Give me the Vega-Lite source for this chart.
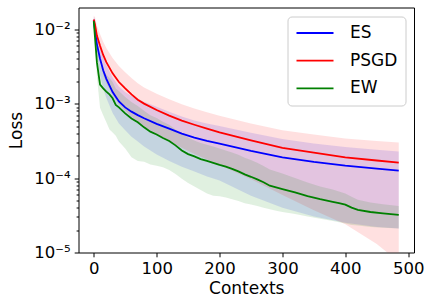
{
 "$schema": "https://vega.github.io/schema/vega-lite/v6.json",
 "width": 335.5,
 "height": 245,
 "autosize": "none",
 "padding": {"left": 78.5, "top": 7.5, "right": 18, "bottom": 53.5},
 "background": "white",
 "config": {
  "font": "DejaVu Sans",
  "view": {"stroke": "black", "strokeWidth": 1},
  "axis": {"grid": false, "domain": false, "tickColor": "black", "labelColor": "black", "titleColor": "black", "labelFont": "DejaVu Sans", "titleFont": "DejaVu Sans", "labelFontSize": 16.5, "titleFontSize": 17, "titleFontWeight": "normal", "tickWidth": 1},
  "legend": {"symbolType": "stroke", "symbolStrokeWidth": 1.8}
 },
 "datasets": {
  "runs": [
   {"m":"ES","x":0,"y":0.0133,"lo":0.0118,"hi":0.0148},
   {"m":"ES","x":2,"y":0.0097,"lo":0.0078,"hi":0.0135},
   {"m":"ES","x":5,"y":0.0063,"lo":0.0044,"hi":0.0091},
   {"m":"ES","x":10,"y":0.0040,"lo":0.0024,"hi":0.0059},
   {"m":"ES","x":15,"y":0.0028,"lo":0.0016,"hi":0.0042},
   {"m":"ES","x":20,"y":0.00215,"lo":0.00119,"hi":0.0033},
   {"m":"ES","x":30,"y":0.00143,"lo":0.00075,"hi":0.00225},
   {"m":"ES","x":40,"y":0.00107,"lo":0.00054,"hi":0.0017},
   {"m":"ES","x":50,"y":0.00089,"lo":0.00044,"hi":0.00143},
   {"m":"ES","x":60,"y":0.00078,"lo":0.00036,"hi":0.00127},
   {"m":"ES","x":70,"y":0.00070,"lo":0.00031,"hi":0.00115},
   {"m":"ES","x":80,"y":0.000635,"lo":0.000266,"hi":0.00106},
   {"m":"ES","x":100,"y":0.000535,"lo":0.000207,"hi":0.00091},
   {"m":"ES","x":120,"y":0.00046,"lo":0.00017,"hi":0.00078},
   {"m":"ES","x":140,"y":0.000395,"lo":0.000142,"hi":0.00067},
   {"m":"ES","x":160,"y":0.00035,"lo":0.000122,"hi":0.000595},
   {"m":"ES","x":180,"y":0.000315,"lo":0.000105,"hi":0.00054},
   {"m":"ES","x":200,"y":0.00029,"lo":0.000093,"hi":0.0005},
   {"m":"ES","x":250,"y":0.000232,"lo":0.000058,"hi":0.000406},
   {"m":"ES","x":300,"y":0.00019,"lo":0.00004,"hi":0.000334},
   {"m":"ES","x":350,"y":0.000165,"lo":0.0000305,"hi":0.000292},
   {"m":"ES","x":400,"y":0.000147,"lo":0.000025,"hi":0.000262},
   {"m":"ES","x":450,"y":0.000134,"lo":0.000022,"hi":0.00024},
   {"m":"ES","x":485,"y":0.000126,"lo":0.000021,"hi":0.000227},
   {"m":"PSGD","x":0,"y":0.0135,"lo":0.012,"hi":0.0152},
   {"m":"PSGD","x":2,"y":0.0115,"lo":0.0092,"hi":0.0145},
   {"m":"PSGD","x":5,"y":0.0082,"lo":0.0053,"hi":0.0111},
   {"m":"PSGD","x":10,"y":0.0060,"lo":0.0035,"hi":0.0086},
   {"m":"PSGD","x":15,"y":0.0045,"lo":0.0024,"hi":0.00675},
   {"m":"PSGD","x":20,"y":0.0036,"lo":0.00187,"hi":0.0056},
   {"m":"PSGD","x":30,"y":0.00255,"lo":0.0013,"hi":0.0041},
   {"m":"PSGD","x":40,"y":0.00195,"lo":0.00098,"hi":0.0032},
   {"m":"PSGD","x":50,"y":0.0016,"lo":0.0008,"hi":0.00264},
   {"m":"PSGD","x":60,"y":0.00133,"lo":0.00066,"hi":0.0022},
   {"m":"PSGD","x":70,"y":0.00113,"lo":0.00056,"hi":0.00187},
   {"m":"PSGD","x":80,"y":0.001,"lo":0.00049,"hi":0.00165},
   {"m":"PSGD","x":100,"y":0.00082,"lo":0.00039,"hi":0.00136},
   {"m":"PSGD","x":120,"y":0.00069,"lo":0.00031,"hi":0.00114},
   {"m":"PSGD","x":140,"y":0.00059,"lo":0.000255,"hi":0.00098},
   {"m":"PSGD","x":160,"y":0.00052,"lo":0.00021,"hi":0.00086},
   {"m":"PSGD","x":180,"y":0.00046,"lo":0.000178,"hi":0.000765},
   {"m":"PSGD","x":200,"y":0.00041,"lo":0.00015,"hi":0.000685},
   {"m":"PSGD","x":250,"y":0.00032,"lo":0.000096,"hi":0.00054},
   {"m":"PSGD","x":300,"y":0.000255,"lo":0.000059,"hi":0.00044},
   {"m":"PSGD","x":350,"y":0.00022,"lo":0.000037,"hi":0.000385},
   {"m":"PSGD","x":400,"y":0.00019,"lo":0.000024,"hi":0.00034},
   {"m":"PSGD","x":450,"y":0.000172,"lo":0.000013,"hi":0.000315},
   {"m":"PSGD","x":485,"y":0.000161,"lo":0.0000075,"hi":0.0003},
   {"m":"EW","x":0,"y":0.0128,"lo":0.0118,"hi":0.0145},
   {"m":"EW","x":5,"y":0.0036,"lo":0.0023,"hi":0.0065},
   {"m":"EW","x":10,"y":0.0018,"lo":0.00088,"hi":0.0033},
   {"m":"EW","x":15,"y":0.0016,"lo":0.0007,"hi":0.0028},
   {"m":"EW","x":20,"y":0.00145,"lo":0.00056,"hi":0.00245},
   {"m":"EW","x":25,"y":0.00133,"lo":0.00045,"hi":0.0022},
   {"m":"EW","x":30,"y":0.00118,"lo":0.00041,"hi":0.00195},
   {"m":"EW","x":35,"y":0.00096,"lo":0.00037,"hi":0.0016},
   {"m":"EW","x":40,"y":0.00089,"lo":0.00031,"hi":0.00148},
   {"m":"EW","x":50,"y":0.00074,"lo":0.00025,"hi":0.00123},
   {"m":"EW","x":60,"y":0.00063,"lo":0.00019,"hi":0.00105},
   {"m":"EW","x":70,"y":0.00056,"lo":0.00017,"hi":0.00093},
   {"m":"EW","x":80,"y":0.00048,"lo":0.000166,"hi":0.0008},
   {"m":"EW","x":90,"y":0.00042,"lo":0.000152,"hi":0.0007},
   {"m":"EW","x":100,"y":0.000385,"lo":0.000146,"hi":0.00064},
   {"m":"EW","x":110,"y":0.000345,"lo":0.00014,"hi":0.00057},
   {"m":"EW","x":120,"y":0.000315,"lo":0.000128,"hi":0.00052},
   {"m":"EW","x":130,"y":0.000275,"lo":0.000113,"hi":0.00045},
   {"m":"EW","x":140,"y":0.000235,"lo":0.000098,"hi":0.00039},
   {"m":"EW","x":150,"y":0.00021,"lo":0.000086,"hi":0.00035},
   {"m":"EW","x":160,"y":0.000195,"lo":0.000077,"hi":0.00032},
   {"m":"EW","x":170,"y":0.00018,"lo":0.000069,"hi":0.000295},
   {"m":"EW","x":180,"y":0.00017,"lo":0.000062,"hi":0.00028},
   {"m":"EW","x":190,"y":0.00016,"lo":0.000058,"hi":0.000265},
   {"m":"EW","x":200,"y":0.00015,"lo":0.000057,"hi":0.00025},
   {"m":"EW","x":210,"y":0.000142,"lo":0.000055,"hi":0.000235},
   {"m":"EW","x":220,"y":0.000133,"lo":0.000052,"hi":0.00022},
   {"m":"EW","x":230,"y":0.000123,"lo":0.000049,"hi":0.000205},
   {"m":"EW","x":240,"y":0.000112,"lo":0.000046,"hi":0.000188},
   {"m":"EW","x":250,"y":0.000104,"lo":0.000044,"hi":0.000175},
   {"m":"EW","x":260,"y":0.000096,"lo":0.000042,"hi":0.00016},
   {"m":"EW","x":270,"y":0.000088,"lo":0.00004,"hi":0.000145},
   {"m":"EW","x":280,"y":0.000079,"lo":0.000038,"hi":0.00013},
   {"m":"EW","x":290,"y":0.000075,"lo":0.0000365,"hi":0.000122},
   {"m":"EW","x":300,"y":0.000071,"lo":0.000035,"hi":0.000115},
   {"m":"EW","x":320,"y":0.000064,"lo":0.000033,"hi":0.0001},
   {"m":"EW","x":340,"y":0.000057,"lo":0.0000305,"hi":0.000087},
   {"m":"EW","x":360,"y":0.000052,"lo":0.0000285,"hi":0.000077},
   {"m":"EW","x":380,"y":0.000048,"lo":0.0000265,"hi":0.00007},
   {"m":"EW","x":390,"y":0.000046,"lo":0.0000255,"hi":0.000066},
   {"m":"EW","x":400,"y":0.000044,"lo":0.0000245,"hi":0.000062},
   {"m":"EW","x":410,"y":0.00004,"lo":0.0000235,"hi":0.000056},
   {"m":"EW","x":420,"y":0.0000375,"lo":0.000023,"hi":0.000051},
   {"m":"EW","x":440,"y":0.000035,"lo":0.000022,"hi":0.000047},
   {"m":"EW","x":460,"y":0.0000335,"lo":0.0000215,"hi":0.0000445},
   {"m":"EW","x":485,"y":0.000032,"lo":0.000021,"hi":0.000042}
  ]
 },
 "data": {"name": "runs"},
 "layer": [
  {
   "mark": {"type": "area", "fillOpacity": 0.12, "clip": true},
   "encoding": {
    "x": {"field": "x", "type": "quantitative", "scale": {"domain": [-24.25, 509.25], "nice": false, "zero": false},
          "axis": {"values": [0,100,200,300,400,500], "tickSize": 4.3, "labelPadding": 4, "title": "Contexts", "titlePadding": 3}},
    "y": {"field": "lo", "type": "quantitative", "scale": {"type": "log", "domain": [0.00001, 0.01954], "nice": false, "zero": false},
          "axis": {"orient": "left", "values": [0.00002,0.00003,0.00004,0.00005,0.00006,0.00007,0.00008,0.00009,0.0002,0.0003,0.0004,0.0005,0.0006,0.0007,0.0008,0.0009,0.002,0.003,0.004,0.005,0.006,0.007,0.008,0.009], "labels": false, "tickSize": 2.4, "title": null}},
    "y2": {"field": "hi"},
    "color": {"field": "m", "type": "nominal", "scale": {"domain": ["ES","PSGD","EW"], "range": ["#0000ff","#ff0000","#008000"]}}
   }
  },
  {
   "mark": {"type": "line", "strokeWidth": 1.8, "clip": true},
   "encoding": {
    "x": {"field": "x", "type": "quantitative", "scale": {"domain": [-24.25, 509.25], "nice": false, "zero": false}},
    "y": {"field": "y", "type": "quantitative", "scale": {"type": "log", "domain": [0.00001, 0.01954], "nice": false, "zero": false},
          "axis": {"orient": "left", "values": [0.00001,0.0001,0.001,0.01], "tickSize": 4.3, "labelPadding": 4, "title": "Loss", "titlePadding": 8,
                   "labelExpr": "datum.value < 0.00005 ? '10⁻⁵' : datum.value < 0.0005 ? '10⁻⁴' : datum.value < 0.005 ? '10⁻³' : '10⁻²'"}},
    "color": {"field": "m", "type": "nominal", "scale": {"domain": ["ES","PSGD","EW"], "range": ["#0000ff","#ff0000","#008000"]},
              "legend": {"title": null, "orient": "top-right", "offset": 9, "symbolType": "stroke", "symbolSize": 1369, "symbolStrokeWidth": 1.8,
                         "labelFontSize": 17, "labelFont": "DejaVu Sans", "labelColor": "black", "labelOffset": 15.5, "rowPadding": 9.7, "clipHeight": 17,
                         "padding": 8, "strokeColor": "#cccccc", "fillColor": "white", "cornerRadius": 4}}
   }
  }
 ],
 "resolve": {"axis": {"y": "independent"}}
}
